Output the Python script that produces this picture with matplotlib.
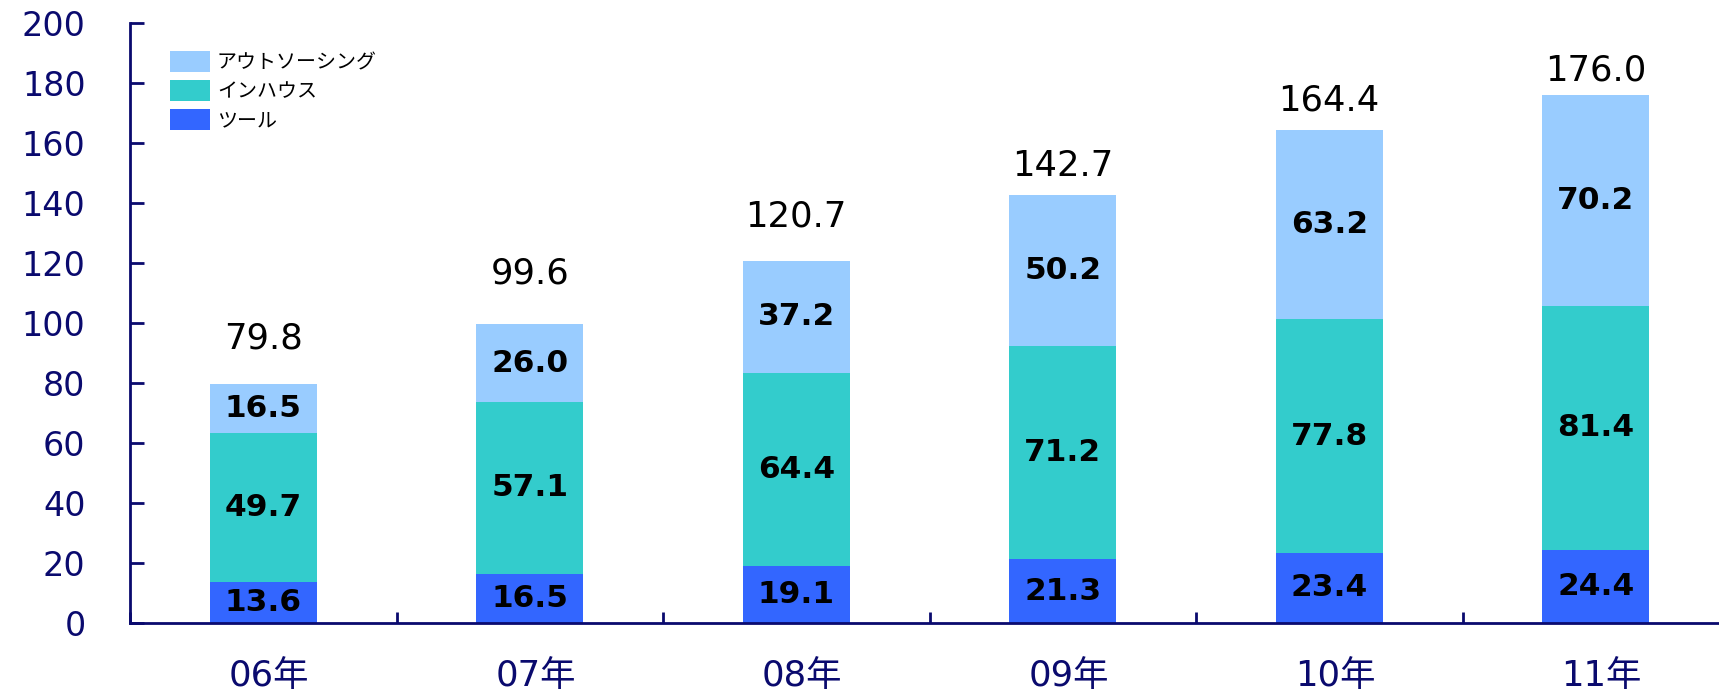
import matplotlib
matplotlib.use("Agg")
import matplotlib.pyplot as plt
import matplotlib.transforms as mtransforms
import numpy as np

categories = ["06年", "07年", "08年", "09年", "10年", "11年"]
tool = [13.6, 16.5, 19.1, 21.3, 23.4, 24.4]
inhouse = [49.7, 57.1, 64.4, 71.2, 77.8, 81.4]
outsourcing = [16.5, 26.0, 37.2, 50.2, 63.2, 70.2]
totals = [79.8, 99.6, 120.7, 142.7, 164.4, 176.0]
series_names = ["ツール", "インハウス", "アウトソーシング"]
yticks = [0, 20, 40, 60, 80, 100, 120, 140, 160, 180, 200]

# baseline heights (data units) where the total labels sit in the original
total_label_y = [91.6, 113.0, 132.1, 149.0, 170.7, 180.8]

colors = ["#3366FF", "#33CCCC", "#99CCFF"]
navy = "#0A0A6E"
W, H = 1719, 690
fig = plt.figure(figsize=(W / 100, H / 100), dpi=100)
ax = fig.add_axes([130 / W, (H - 623) / H, 1599 / W, 600 / H])

x = np.arange(len(categories))
bw = 0.40
bottom = np.zeros(len(categories))
bars = []
for vals, col, name in zip([tool, inhouse, outsourcing], colors, series_names):
    b = ax.bar(x, vals, bw, bottom=bottom, color=col, label=name, zorder=2)
    bars.append(b)
    for xi, v, bt in zip(x, vals, bottom):
        ax.text(xi, bt + v / 2, f"{v:.1f}", ha="center", va="center",
                fontsize=22.5, fontweight="bold", color="black",
                family="DejaVu Sans", zorder=3)
    bottom = bottom + np.array(vals)

for xi, t, ly in zip(x, totals, total_label_y):
    ax.text(xi, ly, f"{t:.1f}", ha="center", va="baseline", fontsize=25.5,
            family="DejaVu Sans", color="black")

ax.set_xlim(-0.5, len(categories) - 0.5)
ax.set_ylim(0, 200)
ax.set_yticks(yticks)
ax.set_yticklabels([str(v) for v in yticks])
ax.set_xticks(x)
ax.set_xticklabels(categories)
ax.set_xticks(np.arange(len(categories) + 1) - 0.5, minor=True)

for s in ["top", "right"]:
    ax.spines[s].set_visible(False)
for s in ["left", "bottom"]:
    ax.spines[s].set_color(navy)
    ax.spines[s].set_linewidth(2)

ax.tick_params(axis="y", direction="in", length=10, width=2, color=navy,
               labelcolor=navy, labelsize=24, pad=32)
ax.tick_params(axis="x", which="major", length=0, labelcolor=navy,
               labelsize=25.5, pad=26)
ax.tick_params(axis="x", which="minor", direction="in", length=8, width=2, color=navy)
for lab in ax.get_yticklabels():
    lab.set_family(["DejaVu Sans", "Noto Sans CJK JP"])
shift = mtransforms.ScaledTranslation(6 / 100, 0, fig.dpi_scale_trans)
for lab in ax.get_xticklabels():
    lab.set_family(["DejaVu Sans", "Noto Sans CJK JP"])
    lab.set_transform(lab.get_transform() + shift)

handles = [bars[2], bars[1], bars[0]]
labels = [series_names[2], series_names[1], series_names[0]]
leg = ax.legend(handles, labels, loc="upper left",
                bbox_to_anchor=(170 / W, 1 - 51 / H), bbox_transform=fig.transFigure,
                frameon=False, borderpad=0, borderaxespad=0,
                handlelength=2.0, handleheight=1.2, handletextpad=0.35,
                labelspacing=0.35, prop={"family": "Noto Sans CJK JP", "size": 14.4})

fig.savefig("out.png", dpi=100)
